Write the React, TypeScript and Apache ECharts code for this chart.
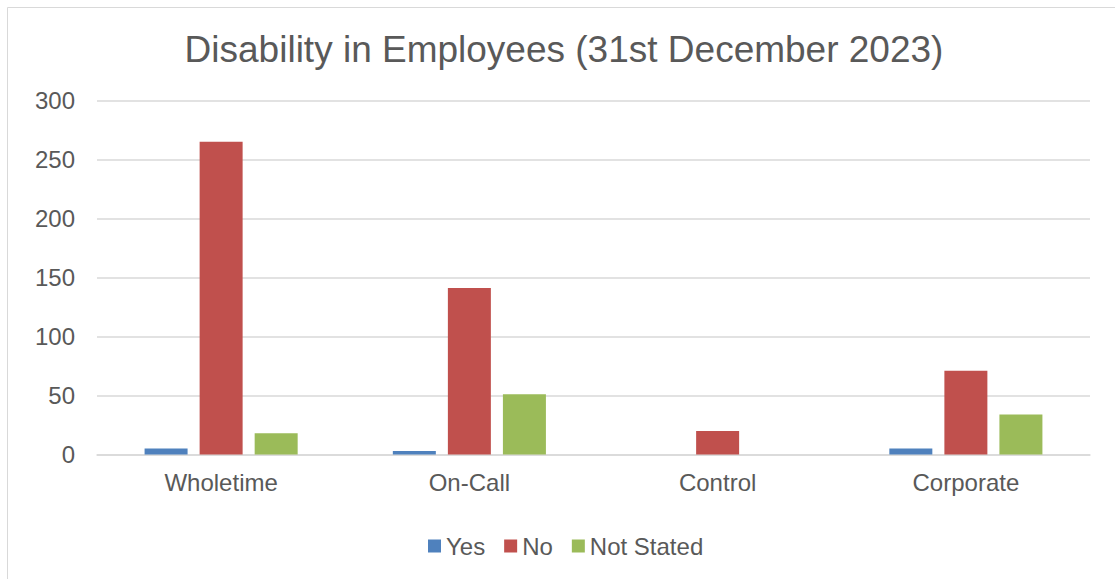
import React, { useEffect, useRef } from "react";
import * as echarts from "echarts";

const categories = ["Wholetime", "On-Call", "Control", "Corporate"];
const yesValues = [5, 3, 0, 5];
const noValues = [265, 141, 20, 71];
const notStatedValues = [18, 51, 0, 34];
const yTicks = { min: 0, max: 300, interval: 50 };
const titleText = "Disability in Employees (31st December 2023)";

const FONT = "'Liberation Sans', Arial, Helvetica, sans-serif";
const TEXT = "#595959";
const GRID = "#D9D9D9";

export default function App() {
  const ref = useRef<HTMLDivElement>(null);
  useEffect(() => {
    if (!ref.current) return;
    const chart = echarts.init(ref.current, null, { renderer: "svg" });
    chart.setOption({
      animation: false,
      backgroundColor: "#ffffff",
      textStyle: { fontFamily: FONT },
      graphic: [
        {
          type: "rect",
          shape: { x: 7.5, y: 7.5, width: 1300, height: 800 },
          style: { fill: "none", stroke: GRID, lineWidth: 1 },
          silent: true,
        },
        {
          type: "text",
          x: 564,
          y: 49,
          style: {
            text: titleText,
            fontSize: 37,
            fontFamily: FONT,
            fill: TEXT,
            align: "center",
            verticalAlign: "middle",
          },
        },
      ],
      legend: {
        left: 423,
        top: 529,
        itemWidth: 13,
        itemHeight: 13,
        itemGap: 19,
        icon: "rect",
        textStyle: { fontSize: 24, color: TEXT, fontFamily: FONT },
        data: ["Yes", "No", "Not Stated"],
      },
      grid: { left: 97, right: 25, top: 100.5, bottom: 124.5, containLabel: false },
      xAxis: {
        type: "category",
        data: categories,
        axisTick: { show: false },
        axisLine: { lineStyle: { color: GRID, width: 1.5 } },
        axisLabel: { fontSize: 24, color: TEXT, margin: 16, fontFamily: FONT },
      },
      yAxis: {
        type: "value",
        min: yTicks.min,
        max: yTicks.max,
        interval: yTicks.interval,
        axisLine: { show: false },
        axisTick: { show: false },
        axisLabel: { fontSize: 24, color: TEXT, margin: 22, fontFamily: FONT },
        splitLine: { lineStyle: { color: GRID, width: 1.5 } },
      },
      series: [
        { name: "Yes", type: "bar", data: yesValues, barWidth: 43, barGap: "28%", itemStyle: { color: "#4F81BD" } },
        { name: "No", type: "bar", data: noValues, barWidth: 43, barGap: "28%", itemStyle: { color: "#C0504D" } },
        { name: "Not Stated", type: "bar", data: notStatedValues, barWidth: 43, barGap: "28%", itemStyle: { color: "#9BBB59" } },
      ],
    });
    return () => chart.dispose();
  }, []);
  return (
    <div
      ref={ref}
      style={{ position: "fixed", left: 0, top: 0, width: 1115, height: 579 }}
    />
  );
}
